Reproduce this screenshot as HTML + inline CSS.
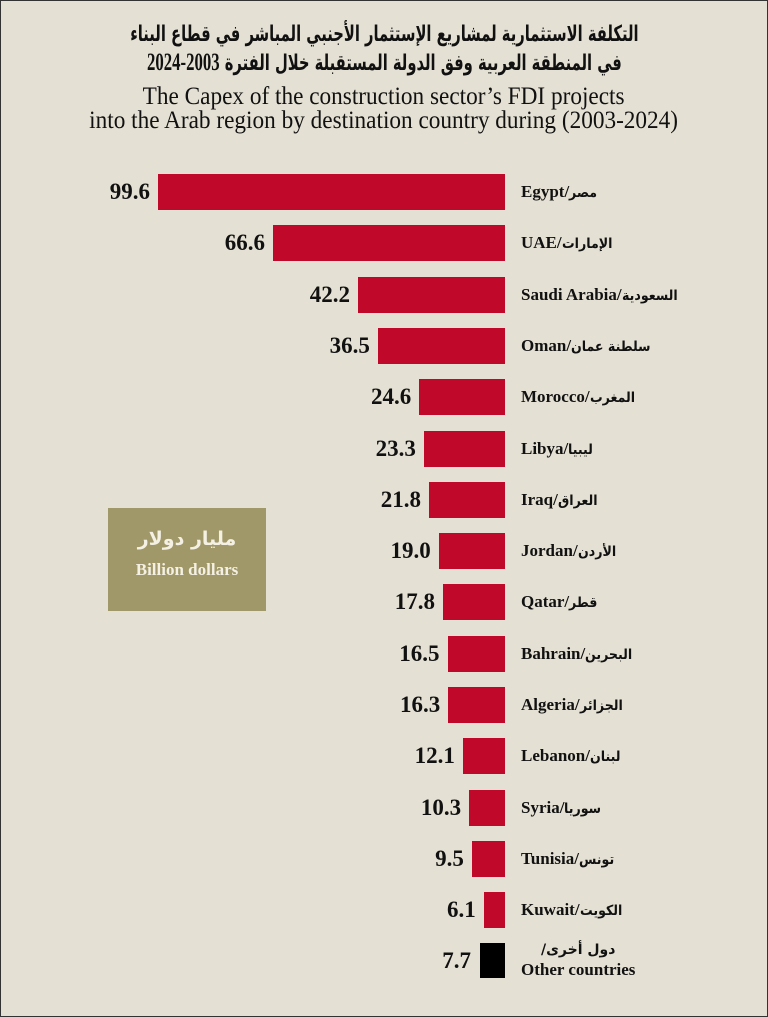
<!DOCTYPE html>
<html><head><meta charset="utf-8"><style>
body{margin:0;}
#c{position:relative;width:766px;height:1015px;background:#e4e1d4;border:1px solid #333;overflow:hidden;font-family:"Liberation Serif","Noto Serif CJK SC",serif;color:#111;}
.t{position:absolute;left:0;width:766px;text-align:center;}
.bar{position:absolute;background:#c0082a;height:36px;}
.v{position:absolute;font-weight:bold;font-size:23px;text-align:right;width:80px;line-height:36px;}
.l{position:absolute;left:520px;font-weight:bold;font-size:17px;line-height:36px;white-space:nowrap;}
.ar{font-size:14px;font-family:'DejaVu Sans',sans-serif;display:inline-block;transform:scaleX(0.9);transform-origin:left center;}
</style></head><body><div id="c">
<div class="t" style="top:20px;"><div style="display:inline-block;transform:scaleX(0.67);font-size:22px;font-weight:bold;line-height:28px;font-family:'DejaVu Sans',serif;white-space:nowrap;" dir="rtl">التكلفة الاستثمارية لمشاريع الإستثمار الأجنبي المباشر في قطاع البناء<br>في المنطقة العربية وفق الدولة المستقبلة خلال الفترة <span style="font-family:'Liberation Serif';font-size:25px">2003-2024</span></div></div>
<div class="t" style="top:84px;"><div style="display:inline-block;transform:scaleX(0.93);font-size:25px;line-height:24px;white-space:nowrap;">The Capex of the construction sector’s FDI projects<br>into the Arab region by destination country during (2003-2024)</div></div>
<div style="position:absolute;left:107px;top:507px;width:158px;height:103px;background:#a09868;color:#f4f0e4;text-align:center;font-weight:bold;">
<div style="margin-top:20px;font-size:19px;font-family:'DejaVu Sans',sans-serif;" dir="rtl">مليار دولار</div>
<div style="margin-top:10px;font-size:17px;">Billion dollars</div></div>
<div id="bars"></div>
<div class="bar" style="left:479px;top:942px;width:25px;height:35px;background:#000"></div>
<div class="v" style="left:390px;top:942px;">7.7</div>
<div class="l" style="top:938px;line-height:19px;text-align:center;"><span dir="rtl" style="font-size:14px;font-family:'DejaVu Sans',sans-serif;">دول أخرى/</span><br>Other countries</div>
</div>
<script>
var d=[["99.6","Egypt/مصر"],["66.6","UAE/الإمارات"],["42.2","Saudi Arabia/السعودية"],["36.5","Oman/سلطنة عمان"],["24.6","Morocco/المغرب"],["23.3","Libya/ليبيا"],["21.8","Iraq/العراق"],["19.0","Jordan/الأردن"],["17.8","Qatar/قطر"],["16.5","Bahrain/البحرين"],["16.3","Algeria/الجزائر"],["12.1","Lebanon/لبنان"],["10.3","Syria/سوريا"],["9.5","Tunisia/تونس"],["6.1","Kuwait/الكويت"]];
var h="";
d.forEach(function(x,i){var w=parseFloat(x[0])*3.484,t=173+51.3*i,l=504-w;
h+='<div class="bar" style="left:'+l+'px;top:'+t+'px;width:'+w+'px"></div>';
h+='<div class="v" style="left:'+(l-88)+'px;top:'+t+'px">'+x[0]+'</div>';
var p=x[1].split('/');
h+='<div class="l" style="top:'+t+'px">'+p[0]+'/<span class="ar">'+p[1]+'</span></div>';});
document.getElementById('bars').innerHTML=h;
</script>
</body></html>
